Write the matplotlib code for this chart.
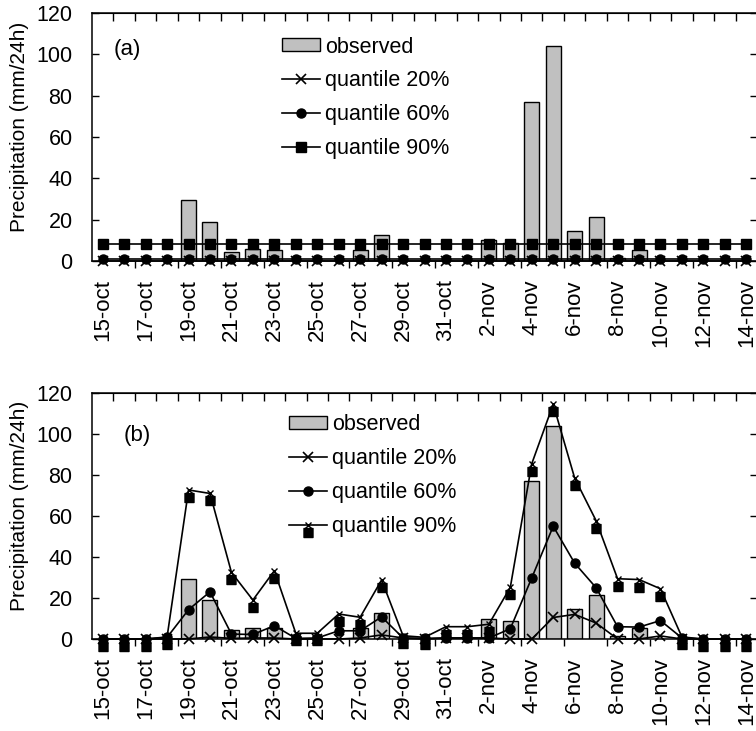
import numpy as np
import matplotlib
matplotlib.use('Agg')
import matplotlib.pyplot as plt
from matplotlib.path import Path

# daily precipitation, 15 Oct - 14 Nov
days = ['15-oct', '16-oct', '17-oct', '18-oct', '19-oct', '20-oct', '21-oct', '22-oct',
        '23-oct', '24-oct', '25-oct', '26-oct', '27-oct', '28-oct', '29-oct', '30-oct',
        '31-oct', '1-nov', '2-nov', '3-nov', '4-nov', '5-nov', '6-nov', '7-nov',
        '8-nov', '9-nov', '10-nov', '11-nov', '12-nov', '13-nov', '14-nov']

observed = [0, 0, 0, 0, 29.5, 19, 4.5, 5.6, 5.2, 0, 0, 0, 5.5, 12.5, 0, 0,
            0, 0, 10, 8.6, 77, 104, 14.6, 21.5, 1.3, 5.5, 0, 0, 0, 0, 0]

# (a) climatological quantiles
q20_a = [0, 0, 0, 0, 0, 0, 0, 0, 0, 0, 0, 0, 0, 0, 0, 0,
         0, 0, 0, 0, 0, 0, 0, 0, 0, 0, 0, 0, 0, 0, 0]
q60_a = [1, 1, 1, 1, 1, 1, 1, 1, 1, 1, 1, 1, 1, 1, 1, 1,
         1, 1, 1, 1, 1, 1, 1, 1, 1, 1, 1, 1, 1, 1, 1]
q90_a = [8, 8, 8, 8, 8, 8, 8, 8, 8, 8, 8, 8, 8, 8, 8, 8,
         8, 8, 8, 8, 8, 8, 8, 8, 8, 8, 8, 8, 8, 8, 8]

# (b) forecast quantiles
q20_b = [0, 0, 0, 0, 0, 1, 0.3, 0.5, 0.5, 0, 0, 0, 0.5, 2, 0.5, 0,
         0.5, 0.5, 0.5, 0, 0, 10.5, 12, 7.8, 0, 0, 1.5, 0, 0, 0, 0]
q60_b = [0, 0, 0, 0.8, 14.3, 23, 2.4, 2.2, 6.5, 0.3, 0.5, 4, 4, 10.8, 0.5, 0.3,
         0.5, 0.5, 0.5, 5, 29.8, 55, 37, 25, 6, 5.8, 9, 0.5, 0, 0, 0]
q90_b = [0, 0, 0, 1, 72.7, 71, 32.5, 19, 33.3, 2.8, 2.8, 12.2, 10.6, 28.8, 1.6, 0.8,
         6, 6, 7.2, 25.2, 85.5, 114.5, 78.5, 57.7, 29.4, 29, 24.5, 1, 0, 0, 0]

labels = ['observed', 'quantile 20%', 'quantile 60%', 'quantile 90%']

plt.rcParams['font.family'] = ['Liberation Sans', 'DejaVu Sans']

x = np.arange(len(days))

# square hanging below a small cross, as in panel (b)
sq_cross = Path(
    [(-4.5, -12), (4.5, -12), (4.5, -3), (-4.5, -3), (-4.5, -12),
     (-3, -3), (3, 3), (-3, 3), (3, -3)],
    [Path.MOVETO, Path.LINETO, Path.LINETO, Path.LINETO, Path.CLOSEPOLY,
     Path.MOVETO, Path.LINETO, Path.MOVETO, Path.LINETO])


def style_axis(ax, tag, tag_xy, leg_xy, handles):
    ax.set_xlim(-0.5, 30.5)
    ax.set_ylim(0, 120)
    for s in ax.spines.values():
        s.set_linewidth(1.1)
    ax.set_yticks(range(0, 121, 20))
    ax.tick_params(axis='y', direction='in', length=5, width=1, pad=14,
                   labelsize=15.5, right=True)
    ax.set_xticks(x[::2])
    ax.set_xticklabels(days[::2], rotation=90)
    ax.tick_params(axis='x', which='major', length=0, pad=13, labelsize=16)
    ax.set_xticks(np.arange(1.5, 30, 2), minor=True)
    ax.tick_params(axis='x', which='minor', direction='out', length=5, width=1)
    top = ax.secondary_xaxis('top')
    top.set_xticks(np.arange(0.5, 30, 1))
    top.tick_params(direction='in', length=6, width=1, labeltop=False)
    ax.set_ylabel('Precipitation (mm/24h)', fontsize=15)
    ax.yaxis.set_label_coords(-0.094, 0.54)
    ax.text(tag_xy[0], tag_xy[1], tag, transform=ax.transAxes, fontsize=16,
            va='center', ha='left')
    ax.legend(handles, labels, loc='upper left', bbox_to_anchor=leg_xy,
              frameon=False, fontsize=15.5, handlelength=1.75,
              handletextpad=0.25, labelspacing=0.6, borderpad=0,
              borderaxespad=0, handleheight=0.55)


fig = plt.figure(figsize=(7.56, 7.31), dpi=100)
ax_a = fig.add_axes([92 / 756, 1 - 261 / 731, 665 / 756, 248 / 731])
ax_b = fig.add_axes([92 / 756, 1 - 639 / 731, 665 / 756, 246 / 731])

# panel (a)
bars = ax_a.bar(x, observed, width=0.7, color='#c0c0c0', edgecolor='black', linewidth=1)
l20, = ax_a.plot(x, q20_a, color='k', lw=1.2, marker='x', ms=7, mew=1.2, clip_on=False)
l60, = ax_a.plot(x, q60_a, color='k', lw=1.2, marker='o', ms=6.5, clip_on=False)
l90, = ax_a.plot(x, q90_a, color='k', lw=1.2, marker='s', ms=6.5, clip_on=False)
style_axis(ax_a, '(a)', (0.032, 0.851), (0.286, 0.905), [bars, l20, l60, l90])

# panel (b)
bars = ax_b.bar(x, observed, width=0.7, color='#c0c0c0', edgecolor='black', linewidth=1)
l20, = ax_b.plot(x, q20_b, color='k', lw=1.2, marker='x', ms=7, mew=1.2, clip_on=False)
l60, = ax_b.plot(x, q60_b, color='k', lw=1.2, marker='o', ms=6.5, clip_on=False)
l90, = ax_b.plot(x, q90_b, color='k', lw=1.2, marker=sq_cross, ms=17.3, mew=1,
                 clip_on=False)
style_axis(ax_b, '(b)', (0.047, 0.829), (0.296, 0.914), [bars, l20, l60, l90])

fig.savefig('out.png', dpi=100)
